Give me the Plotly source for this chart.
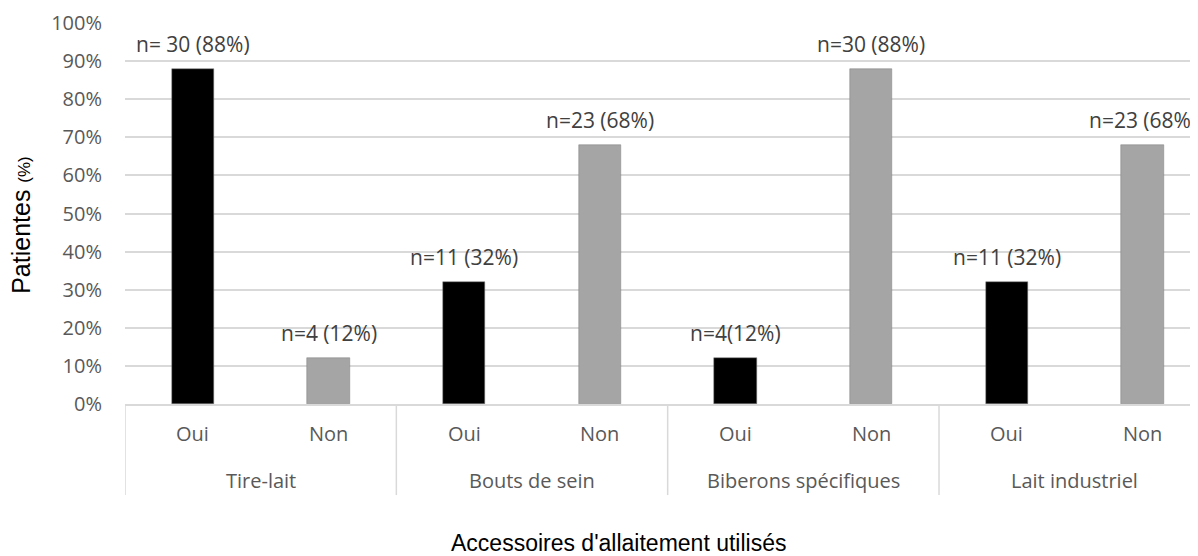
import plotly.graph_objects as go

groups = ["Tire-lait", "Bouts de sein", "Biberons spécifiques", "Lait industriel"]
answers = ["Oui", "Non"]
values = [88, 12, 32, 68, 12, 88, 32, 68]
labels = ["n= 30 (88%)", "n=4 (12%)", "n=11 (32%)", "n=23 (68%)",
          "n=4(12%)", "n=30 (88%)", "n=11 (32%)", "n=23 (68%)"]
colors = ["#000000", "#a5a5a5"]
y_ticks = list(range(0, 101, 10))

n = len(values)
xs = list(range(n))
bar_colors = [colors[i % 2] for i in xs]
sub_labels = [answers[i % 2] for i in xs]

fig = go.Figure()
fig.add_trace(go.Bar(
    x=xs, y=values, width=0.31,
    marker=dict(color=bar_colors, line=dict(color="#7f7f7f", width=0.5)),
    hoverinfo="skip", showlegend=False,
))

font_fam = "Open Sans, Noto Sans, sans-serif"
fs = 20
ann = []
for i in xs:
    ann.append(dict(x=i, y=values[i], xref="x", yref="y", text=labels[i], showarrow=False,
                    yanchor="middle", yshift=25, font=dict(family=font_fam, size=21, color="#404040")))
    ann.append(dict(x=i, y=0, xref="x", yref="y", text=sub_labels[i], showarrow=False,
                    yanchor="middle", yshift=-29, font=dict(family=font_fam, size=fs, color="#595959")))
for g, name in enumerate(groups):
    ann.append(dict(x=2 * g + 0.5, y=0, xref="x", yref="y", text=name, showarrow=False,
                    yanchor="middle", yshift=-76, font=dict(family=font_fam, size=fs, color="#595959")))

shapes = []
for g in range(len(groups) + 1):
    shapes.append(dict(type="line", xref="x", yref="paper", x0=2 * g - 0.5, x1=2 * g - 0.5,
                       y0=0, y1=-0.239, line=dict(color="#d9d9d9", width=1.5)))

ann.append(dict(xref="paper", yref="paper", x=0.46, y=-0.365, yanchor="middle", showarrow=False,
                text="Accessoires d'allaitement utilisés",
                font=dict(family="Liberation Sans Narrow, Arial Narrow, Arial", size=23, color="#000000")))
ann.append(dict(xref="paper", yref="paper", x=-0.097, xanchor="center", y=0.47, yanchor="middle",
                textangle=-90, showarrow=False,
                text="Patientes <span style='font-size:17px'>(%)</span>",
                font=dict(family="Liberation Sans Narrow, Arial Narrow, Arial", size=25, color="#000000")))

# the page body adds an 8px offset: compensate in size and margins
fig.update_layout(
    width=1190, height=548,
    margin=dict(l=117, r=0, t=15, b=152, autoexpand=False),
    plot_bgcolor="white", paper_bgcolor="white",
    xaxis=dict(range=[-0.5, 7.409], showticklabels=False, showgrid=False, zeroline=False,
               showline=True, linecolor="#d9d9d9", linewidth=1.5, ticks=""),
    yaxis=dict(range=[0, 100], tickvals=y_ticks, ticktext=[f"{v}%" for v in y_ticks],
               showgrid=True, gridcolor="#d9d9d9", gridwidth=1.5, zeroline=False,
               ticklabelstandoff=22, tickfont=dict(family=font_fam, size=fs, color="#595959")),
    annotations=ann, shapes=shapes, bargap=0,
)

fig.write_html("out.html")
